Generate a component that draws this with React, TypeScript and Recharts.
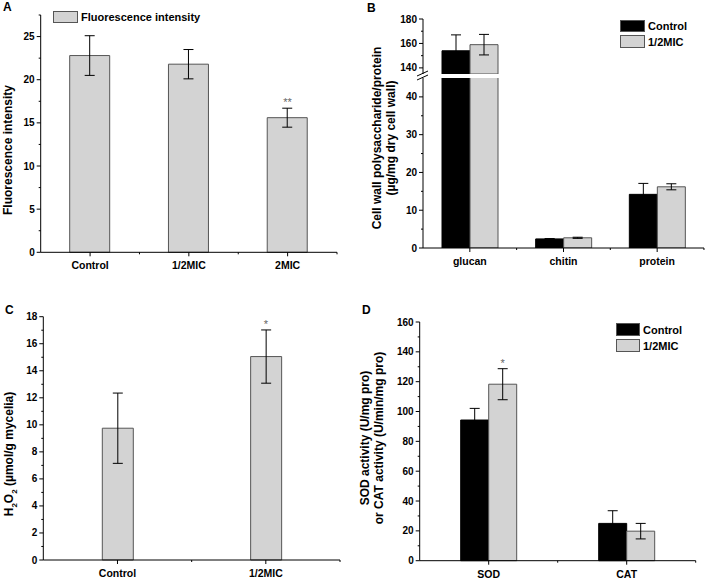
import React from "react";
import { BarChart, Bar, XAxis, YAxis, ErrorBar, ReferenceDot } from "recharts";

const FONT = "'Liberation Sans', Arial, sans-serif";
const GRAY = "#d3d3d3";
const EDGE = "#555";

// Panel A – fluorescence intensity
const aCats = ["Control", "1/2MIC", "2MIC"];
const aValues = [22.8, 21.8, 15.6];
const aErr = [2.3, 1.7, 1.1];

// Panel B – cell wall components (broken axis 45..135)
const bCats = ["glucan", "chitin", "protein"];
const bControl = [154, 2.4, 14.2];
const bControlErr = [13, 0.1, 2.9];
const bMic = [159, 2.7, 16.2];
const bMicErr = [8.4, 0.15, 0.8];
const B_LOW_MAX = 45;
const B_HIGH_MIN = 135;

// Panel C – H2O2
const cCats = ["Control", "1/2MIC"];
const cValues = [9.75, 15.05];
const cErr = [2.6, 1.97];

// Panel D – SOD / CAT
const dCats = ["SOD", "CAT"];
const dControl = [94.3, 25];
const dControlErr = [7.8, 8.5];
const dMic = [118.3, 19.8];
const dMicErr = [10.4, 5.2];

const aData = aCats.map((c, i) => ({ cat: c, v: aValues[i], e: aErr[i] }));
const bData = bCats.map((c, i) => ({ cat: c, ctrl: bControl[i], ctrlE: bControlErr[i], mic: bMic[i], micE: bMicErr[i] }));
// only the values above the break go into the top segment
const bUpper = bData.map((d) => ({
  cat: d.cat,
  ctrl: d.ctrl >= B_HIGH_MIN ? d.ctrl : null,
  ctrlE: d.ctrl >= B_HIGH_MIN ? d.ctrlE : null,
  mic: d.mic >= B_HIGH_MIN ? d.mic : null,
  micE: d.mic >= B_HIGH_MIN ? d.micE : null,
}));
const bLower = bData.map((d) => ({
  ...d,
  ctrlE: d.ctrl <= B_LOW_MAX ? d.ctrlE : null,
  micE: d.mic <= B_LOW_MAX ? d.micE : null,
}));
const cData = cCats.map((c, i) => ({ cat: c, v: cValues[i], e: cErr[i] }));
const dData = dCats.map((c, i) => ({ cat: c, ctrl: dControl[i], ctrlE: dControlErr[i], mic: dMic[i], micE: dMicErr[i] }));

const range = (from: number, to: number, step: number) => {
  const out: number[] = [];
  for (let v = from; v <= to + 1e-9; v += step) out.push(Math.round(v * 100) / 100);
  return out;
};

const YTick = ({ x, y, payload, major }: any) => {
  const isMajor = major.includes(payload.value);
  return (
    <g>
      <line x1={x} x2={x - (isMajor ? 4 : 2)} y1={y} y2={y} stroke="#000" />
      {isMajor && (
        <text x={x - 6} y={y + 3.5} textAnchor="end" fontSize={10} fontWeight="bold" fontFamily={FONT} fill="#000">
          {payload.value}
        </text>
      )}
    </g>
  );
};

const XTick = ({ x, y, payload, half }: any) => (
  <g>
    <line x1={x} x2={x} y1={y} y2={y + 4} stroke="#000" />
    <line x1={x + half} x2={x + half} y1={y} y2={y + 2} stroke="#000" />
    <text x={x} y={y + 17} textAnchor="middle" fontSize={10.5} fontWeight="bold" fontFamily={FONT} fill="#000">
      {payload.value}
    </text>
  </g>
);

const star = (text: string, dx = 0) => (props: any) => {
  const { x, y } = props.viewBox;
  return (
    <text x={x + dx} y={y - 2} textAnchor="middle" fontSize={11} fontFamily={FONT} fill="#666">
      {text}
    </text>
  );
};

const abs = (left: number, top: number): React.CSSProperties => ({ position: "absolute", left, top });

const Letter = ({ l, left, top }: { l: string; left: number; top: number }) => (
  <div style={{ ...abs(left, top), fontSize: 12, fontWeight: "bold", lineHeight: "12px" }}>{l}</div>
);

const YLabel = ({ cx, cy, children }: { cx: number; cy: number; children: React.ReactNode }) => (
  <div
    style={{
      position: "absolute",
      left: cx,
      top: cy,
      transform: "translate(-50%, -50%) rotate(-90deg)",
      whiteSpace: "nowrap",
      fontSize: 12,
      fontWeight: "bold",
      lineHeight: "14px",
      textAlign: "center",
    }}
  >
    {children}
  </div>
);

const Swatch = ({ left, top, w, h, fill, label }: any) => (
  <>
    <div style={{ ...abs(left, top), width: w, height: h, background: fill, border: `1px solid ${EDGE}`, boxSizing: "border-box" }} />
    <div style={{ ...abs(left + w + 3, top + h / 2 - 7), fontSize: 11, fontWeight: "bold", lineHeight: "14px" }}>{label}</div>
  </>
);

const axisCommon = { tickLine: false, tickSize: 0, tickMargin: 0, axisLine: { stroke: "#000" } } as const;

export default function App() {
  const aMajor = range(0, 25, 5);
  const bUpMajor = [140, 160, 180];
  const bLowMajor = range(0, 40, 10);
  const cMajor = range(0, 18, 2);
  const dMajor = range(0, 160, 20);

  return (
    <div style={{ position: "absolute", left: 0, top: 0, width: 708, height: 579, background: "#fff", fontFamily: FONT, color: "#000" }}>
      {/* A */}
      <div style={abs(0, 0)}>
        <BarChart width={354} height={290} data={aData} margin={{ top: 15, right: 17, bottom: 0, left: 0 }}>
          <XAxis dataKey="cat" height={37.7} {...axisCommon} interval={0} tick={(p: any) => <XTick {...p} half={49.4} />} />
          <YAxis
            width={40.7}
            type="number"
            domain={[0, 27.5]}
            ticks={range(0, 27.5, 2.5)}
            interval={0}
            {...axisCommon}
            tick={(p: any) => <YTick {...p} major={aMajor} />}
          />
          <Bar dataKey="v" fill={GRAY} stroke={EDGE} strokeWidth={1} barSize={40} isAnimationActive={false}>
            <ErrorBar dataKey="e" width={5} stroke="#000" strokeWidth={1} />
          </Bar>
          <ReferenceDot x="2MIC" y={aValues[2] + aErr[2]} r={0} fill="none" stroke="none" label={star("**")} />
        </BarChart>
      </div>
      <Letter l="A" left={3} top={1} />
      <YLabel cx={8} cy={150}>Fluorescence intensity</YLabel>
      <Swatch left={53} top={11} w={25} h={12} fill={GRAY} label="Fluorescence intensity" />

      {/* B lower segment */}
      <div style={abs(354, 0)}>
        <BarChart width={354} height={290} data={bLower} margin={{ top: 78, right: 4, bottom: 0, left: 0 }} barGap={0}>
          <XAxis dataKey="cat" height={42} {...axisCommon} interval={0} tick={(p: any) => <XTick {...p} half={46.8} />} />
          <YAxis
            width={69}
            type="number"
            domain={[0, B_LOW_MAX]}
            allowDataOverflow
            ticks={range(0, 40, 5)}
            interval={0}
            {...axisCommon}
            tick={(p: any) => <YTick {...p} major={bLowMajor} />}
          />
          <Bar dataKey="ctrl" fill="#000" stroke="#000" barSize={28} isAnimationActive={false}>
            <ErrorBar dataKey="ctrlE" width={5} stroke="#000" strokeWidth={1} />
          </Bar>
          <Bar dataKey="mic" fill={GRAY} stroke={EDGE} barSize={28} isAnimationActive={false}>
            <ErrorBar dataKey="micE" width={5} stroke="#000" strokeWidth={1} />
          </Bar>
        </BarChart>
      </div>
      {/* B upper segment */}
      <div style={abs(354, 0)}>
        <BarChart width={354} height={290} data={bUpper} margin={{ top: 19, right: 4, bottom: 216, left: 0 }} barGap={0}>
          <XAxis dataKey="cat" hide />
          <YAxis
            width={69}
            type="number"
            domain={[B_HIGH_MIN, 180]}
            allowDataOverflow
            ticks={range(140, 180, 10)}
            interval={0}
            {...axisCommon}
            tick={(p: any) => <YTick {...p} major={bUpMajor} />}
          />
          <Bar dataKey="ctrl" fill="#000" stroke="#000" barSize={28} isAnimationActive={false}>
            <ErrorBar dataKey="ctrlE" width={5} stroke="#000" strokeWidth={1} />
          </Bar>
          <Bar dataKey="mic" fill={GRAY} stroke={EDGE} barSize={28} isAnimationActive={false}>
            <ErrorBar dataKey="micE" width={5} stroke="#000" strokeWidth={1} />
          </Bar>
        </BarChart>
      </div>
      <svg style={abs(416, 70)} width={14} height={12}>
        <line x1={1} y1={6} x2={12} y2={1} stroke="#000" strokeWidth={1} />
        <line x1={1} y1={10} x2={12} y2={5} stroke="#000" strokeWidth={1} />
      </svg>
      <Letter l="B" left={367} top={2} />
      <YLabel cx={383.5} cy={138}>
        Cell wall polysaccharide/protein
        <br />
        (µg/mg dry cell wall)
      </YLabel>
      <Swatch left={620} top={20} w={25} h={12} fill="#000" label="Control" />
      <Swatch left={620} top={35} w={25} h={13} fill={GRAY} label="1/2MIC" />

      {/* C */}
      <div style={abs(0, 290)}>
        <BarChart width={354} height={289} data={cData} margin={{ top: 26.7, right: 14, bottom: 0, left: 0 }}>
          <XAxis dataKey="cat" height={19} {...axisCommon} interval={0} tick={(p: any) => <XTick {...p} half={74.2} />} />
          <YAxis
            width={43.3}
            type="number"
            domain={[0, 18]}
            ticks={range(0, 18, 1)}
            interval={0}
            {...axisCommon}
            tick={(p: any) => <YTick {...p} major={cMajor} />}
          />
          <Bar dataKey="v" fill={GRAY} stroke={EDGE} strokeWidth={1} barSize={31} isAnimationActive={false}>
            <ErrorBar dataKey="e" width={5} stroke="#000" strokeWidth={1} />
          </Bar>
          <ReferenceDot x="1/2MIC" y={cValues[1] + cErr[1]} r={0} fill="none" stroke="none" label={star("*")} />
        </BarChart>
      </div>
      <Letter l="C" left={5} top={304} />
      <YLabel cx={12} cy={454}>
        H<sub style={{ fontSize: 8 }}>2</sub>O<sub style={{ fontSize: 8 }}>2</sub> (µmol/g mycelia)
      </YLabel>

      {/* D */}
      <div style={abs(354, 290)}>
        <BarChart width={354} height={289} data={dData} margin={{ top: 32, right: 12.3, bottom: 0, left: 0 }} barGap={0}>
          <XAxis dataKey="cat" height={18.3} {...axisCommon} interval={0} tick={(p: any) => <XTick {...p} half={69} />} />
          <YAxis
            width={65.7}
            type="number"
            domain={[0, 160]}
            ticks={range(0, 160, 10)}
            interval={0}
            {...axisCommon}
            tick={(p: any) => <YTick {...p} major={dMajor} />}
          />
          <Bar dataKey="ctrl" fill="#000" stroke="#000" barSize={28} isAnimationActive={false}>
            <ErrorBar dataKey="ctrlE" width={5} stroke="#000" strokeWidth={1} />
          </Bar>
          <Bar dataKey="mic" fill={GRAY} stroke={EDGE} barSize={28} isAnimationActive={false}>
            <ErrorBar dataKey="micE" width={5} stroke="#000" strokeWidth={1} />
          </Bar>
          <ReferenceDot x="SOD" y={dMic[0] + dMicErr[0]} r={0} fill="none" stroke="none" label={star("*", 14)} />
        </BarChart>
      </div>
      <Letter l="D" left={362} top={304} />
      <YLabel cx={372} cy={438}>
        SOD activity (U/mg pro)
        <br />
        or CAT activity (U/min/mg pro)
      </YLabel>
      <Swatch left={616} top={323} w={24} h={13} fill="#000" label="Control" />
      <Swatch left={616} top={339} w={24} h={13} fill={GRAY} label="1/2MIC" />
    </div>
  );
}
